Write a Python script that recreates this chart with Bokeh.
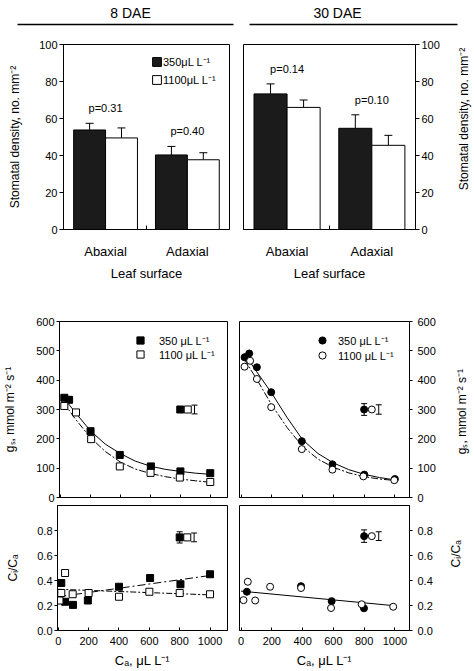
import math
from bokeh.plotting import figure
from bokeh.models import (Range1d, FixedTicker, ColumnDataSource, Whisker, TeeHead,
                          Legend, LegendItem, PrintfTickFormatter)
from bokeh.layouts import column, row
from bokeh.embed import file_html
from bokeh.resources import INLINE
from bokeh.core.properties import value

FONT = "Liberation Sans"
BAR_BLACK = "#1b1b1b"

# ---------------- data: stomatal density ----------------
headers = ["8 DAE", "30 DAE"]
surfaces = ["Abaxial", "Adaxial"]
bar_labels = ["350\u03bcL L\u207b\u00b9", "1100\u03bcL L\u207b\u00b9"]
dens8_350 = [53.8, 40.3]
dens8_350_se = [3.6, 4.6]
dens8_1100 = [49.5, 37.7]
dens8_1100_se = [5.4, 3.8]
pvals8 = ["p=0.31", "p=0.40"]
dens30_350 = [73.3, 54.7]
dens30_350_se = [5.4, 7.3]
dens30_1100 = [66.0, 45.5]
dens30_1100_se = [4.0, 5.4]
pvals30 = ["p=0.14", "p=0.10"]

# ---------------- data: gs vs Ca ----------------
co2_labels = ["350 \u03bcL L\u207b\u00b9", "1100 \u03bcL L\u207b\u00b9"]
gs8_350_ca = [27, 59, 202, 397, 604, 801, 1000]
gs8_350 = [340, 333, 226, 145, 106, 89, 83]
gs8_1100_ca = [27, 105, 206, 397, 602, 797, 1000]
gs8_1100 = [312, 290, 199, 106, 84, 68, 53]
fit_ca = [20, 100, 200, 300, 400, 500, 600, 700, 800, 900, 1000]
gs8_fit_350 = [342, 290, 228, 182, 150, 124, 107, 96, 89, 83, 79]
gs8_fit_1100 = [325, 268, 205, 157, 121, 97, 82, 71, 63, 57, 52]

gs30_350_ca = [23, 53, 103, 196, 395, 594, 801, 1000]
gs30_350 = [478, 491, 444, 359, 192, 113, 78, 63]
gs30_1100_ca = [23, 59, 103, 196, 395, 594, 795, 996]
gs30_1100 = [446, 466, 404, 308, 165, 95, 72, 59]
gs30_fit_350 = [492, 430, 355, 272, 197, 150, 118, 95, 79, 68, 60]
gs30_fit_1100 = [472, 405, 315, 238, 174, 131, 103, 84, 71, 63, 58]

# ---------------- data: Ci/Ca vs Ca ----------------
ci8_350_ca = [20, 45, 97, 195, 400, 605, 805, 1000]
ci8_350 = [0.38, 0.23, 0.205, 0.24, 0.35, 0.42, 0.37, 0.45]
ci8_1100_ca = [8, 20, 45, 95, 200, 400, 600, 800, 1000]
ci8_1100 = [0.24, 0.30, 0.46, 0.29, 0.30, 0.27, 0.31, 0.30, 0.29]
ci_fit_ca = [0, 1000]
ci8_fit_350 = [0.27, 0.44]
ci8_fit_1100 = [0.33, 0.285]

ci30_350_ca = [38, 390, 589, 799]
ci30_350 = [0.31, 0.355, 0.235, 0.178]
ci30_1100_ca = [16, 44, 92, 189, 390, 585, 784, 989]
ci30_1100 = [0.243, 0.39, 0.24, 0.35, 0.34, 0.18, 0.21, 0.19]
ci30_fit = [0.315, 0.198]

# representative SE bars: [350 marker+bar, 1100 marker, 1100 bar]
se_ca = [800, 850, 895]
gs8_se_y, gs8_se = 300, [10, 15]
gs30_se_y, gs30_se = 300, [20, 16]
ci8_se_y, ci8_se = 0.745, [0.045, 0.035]
ci30_se_y, ci30_se = 0.755, [0.05, 0.035]

gs_ticks = [0, 100, 200, 300, 400, 500, 600]
ci_ticks = [0, 0.2, 0.4, 0.6, 0.8]
ca_ticks = [0, 200, 400, 600, 800, 1000]
dens_ticks = [0, 20, 40, 60, 80, 100]

GS_TITLE = "g\u209b, mmol m\u207b\u00b2 s\u207b\u00b9"
CI_TITLE = "C\u1d62/C\u2090"
CA_TITLE = "C\u2090, \u03bcL L\u207b\u00b9"
DENS_TITLE = "Stomatal density, no. mm\u207b\u00b2"

OVERLAP = 8  # px the Ci/Ca row slides under the gs row's bottom border


def make_fig(w, h, bl, br, bt, bb, xr, yr, yloc="left"):
    p = figure(width=w, height=h, x_range=xr, y_range=yr, y_axis_location=yloc,
               output_backend="svg", toolbar_location=None,
               min_border_left=bl, min_border_right=br,
               min_border_top=bt, min_border_bottom=bb)
    p.grid.visible = False
    p.outline_line_color = "black"
    p.outline_line_width = 1
    p.outline_line_alpha = 1
    return p


def style_axis(ax, ticks, tick_in=0, tick_out=4, label_size="11px", standoff=3,
               title=None, title_size="12px", title_standoff=6):
    ax.ticker = FixedTicker(ticks=ticks)
    ax.major_tick_in = tick_in
    ax.major_tick_out = tick_out
    ax.minor_tick_in = 0
    ax.minor_tick_out = 0
    ax.major_label_text_font = FONT
    ax.major_label_text_font_size = label_size
    ax.major_label_text_color = "black"
    ax.major_label_standoff = standoff
    ax.axis_line_color = "black"
    ax.major_tick_line_color = "black"
    ax.minor_tick_line_color = "black"
    if title:
        ax.axis_label = title
        ax.axis_label_text_font = FONT
        ax.axis_label_text_font_size = title_size
        ax.axis_label_text_font_style = "normal"
        ax.axis_label_text_color = "black"
        ax.axis_label_standoff = title_standoff


def one_legend(p, label, rend, loc, gw, gh, standoff, size):
    p.add_layout(Legend(items=[LegendItem(label=label, renderers=[rend])],
                        location=loc, padding=0, margin=0, spacing=0,
                        glyph_width=gw, glyph_height=gh, label_height=20,
                        label_standoff=standoff, label_text_font=FONT,
                        label_text_font_size=size, label_text_color="black",
                        border_line_alpha=0, background_fill_alpha=0))


def title_strip(w, h, title, cx, cy_from_top, size="12px"):
    s = figure(width=w, height=h, x_range=Range1d(0, w), y_range=Range1d(0, h),
               output_backend="svg", toolbar_location=None, min_border=0)
    s.axis.visible = False
    s.grid.visible = False
    s.outline_line_color = None
    s.background_fill_alpha = 0
    s.border_fill_alpha = 0
    s.text(x=[cx], y=[h - cy_from_top], text=[title], angle=math.pi / 2,
           text_font=value(FONT), text_font_size=size, text_align="center",
           text_baseline="middle", text_color="black")
    return s


# ---------------- header ----------------
header = figure(width=474, height=32, x_range=Range1d(0, 474), y_range=Range1d(32, 0),
                output_backend="svg", toolbar_location=None, min_border=0)
header.axis.visible = False
header.grid.visible = False
header.outline_line_color = None
header.text(x=[130, 337], y=[12, 12], text=headers, text_font=value(FONT),
            text_font_size="14px", text_align="center", text_baseline="middle",
            text_color="black")
header.segment(x0=[17, 249], y0=[24, 24], x1=[233, 457], y1=[24, 24],
               line_color="black", line_width=1.3)


# ---------------- bar panels ----------------
def bar_panel(w, bl, br, yloc, d350, se350, d1100, se1100, pvals, legend=False):
    p = make_fig(w, 258, bl, br, 12, 61, Range1d(0.486, 2.515), Range1d(0, 100), yloc)
    xs = [i + 1 for i in range(len(surfaces))]
    bw = 0.39
    x350 = [x - bw / 2 for x in xs]
    x1100 = [x + bw / 2 for x in xs]
    s350 = ColumnDataSource(dict(x=x350, top=d350, up=[a + b for a, b in zip(d350, se350)]))
    s1100 = ColumnDataSource(dict(x=x1100, top=d1100, up=[a + b for a, b in zip(d1100, se1100)]))
    r1 = p.vbar(x="x", top="top", width=bw, source=s350, fill_color=BAR_BLACK, line_color="black")
    r2 = p.vbar(x="x", top="top", width=bw, source=s1100, fill_color="white", line_color="black")
    for s in (s350, s1100):
        p.add_layout(Whisker(base="x", lower="top", upper="up", source=s, dimension="height",
                             line_color="black", line_width=1, lower_head=None,
                             upper_head=TeeHead(size=8, line_color="black", line_width=1)))
    ptop = [max(a, b) + 5 for a, b in zip(s350.data["up"], s1100.data["up"])]
    p.text(x=xs, y=ptop, text=pvals, text_font=value(FONT), text_font_size="11px",
           text_align="center", text_baseline="bottom", text_color="black")
    ya = p.yaxis[0]
    style_axis(ya, dens_ticks, tick_out=4, standoff=2,
               title=DENS_TITLE if yloc == "left" else None,
               title_size="12px", title_standoff=14)
    xa = p.xaxis[0]
    style_axis(xa, [1, 2], tick_out=0, label_size="13px", standoff=14,
               title="Leaf surface", title_size="13px", title_standoff=4)
    xa.ticker = FixedTicker(ticks=xs, minor_ticks=[1.5])
    xa.minor_tick_in = 4
    xa.minor_tick_out = 0
    xa.major_label_overrides = {x: s for x, s in zip(xs, surfaces)}
    if legend:
        one_legend(p, bar_labels[0], r1, (88, 158), 11, 11, 1, "11px")
        one_legend(p, bar_labels[1], r2, (88, 140), 11, 11, 1, "11px")
    return p


p8 = bar_panel(236, 63, 7, "left", dens8_350, dens8_350_se, dens8_1100, dens8_1100_se,
               pvals8, legend=True)
p30 = bar_panel(216, 7, 37, "right", dens30_350, dens30_350_se, dens30_1100, dens30_1100_se,
                pvals30)
strip1 = title_strip(22, 258, DENS_TITLE, 11, 104)


# ---------------- gs and Ci/Ca panels ----------------
def se_marks(p, marker, y, se):
    src = ColumnDataSource(dict(x=[se_ca[0], se_ca[2]],
                                lo=[y - se[0], y - se[1]], hi=[y + se[0], y + se[1]]))
    p.add_layout(Whisker(base="x", lower="lo", upper="hi", source=src, dimension="height",
                         line_color="black", line_width=1,
                         lower_head=TeeHead(size=6, line_color="black", line_width=1),
                         upper_head=TeeHead(size=6, line_color="black", line_width=1)))
    p.scatter(x=[se_ca[0]], y=[y], marker=marker, size=7, fill_color="black", line_color="black")
    p.scatter(x=[se_ca[1]], y=[y], marker=marker, size=7, fill_color="white", line_color="black")


def gs_panel(w, bl, br, xr, yloc, marker, ca350, v350, ca1100, v1100, fit350, fit1100,
             se_y, se, leg_locs, leg_standoff):
    p = make_fig(w, 215, bl, br, 31, OVERLAP, xr, Range1d(0, 600), yloc)
    p.line(fit_ca, fit350, line_color="black", line_width=1)
    p.line(fit_ca, fit1100, line_color="black", line_width=1, line_dash="7 2 2 2")
    r1 = p.scatter(ca350, v350, marker=marker, size=7, fill_color="black", line_color="black")
    r2 = p.scatter(ca1100, v1100, marker=marker, size=7, fill_color="white", line_color="black")
    se_marks(p, marker, se_y, se)
    left = yloc == "left"
    style_axis(p.yaxis[0], gs_ticks, tick_out=3, standoff=2 if left else 5,
               title=GS_TITLE if left else None, title_size="12px", title_standoff=16)
    xa = p.xaxis[0]
    style_axis(xa, ca_ticks, standoff=0)
    xa.ticker = FixedTicker(ticks=[], minor_ticks=ca_ticks)
    xa.minor_tick_in = 3
    xa.minor_tick_out = 0
    one_legend(p, co2_labels[0], r1, leg_locs[0], 18, 18, leg_standoff, "11px")
    one_legend(p, co2_labels[1], r2, leg_locs[1], 18, 18, leg_standoff, "11px")
    return p


def ci_panel(w, bl, br, xr, yloc, marker, ca350, v350, ca1100, v1100, fits, se_y, se):
    p = make_fig(w, 173, bl, br, OVERLAP, 39, xr, Range1d(0, 1.0), yloc)
    p.background_fill_alpha = 0
    p.border_fill_alpha = 0
    for f, dash in fits:
        p.line(ci_fit_ca, f, line_color="black", line_width=1, line_dash=dash)
    p.scatter(ca350, v350, marker=marker, size=7, fill_color="black", line_color="black")
    p.scatter(ca1100, v1100, marker=marker, size=7, fill_color="white", line_color="black")
    se_marks(p, marker, se_y, se)
    left = yloc == "left"
    ya = p.yaxis[0]
    style_axis(ya, ci_ticks, tick_out=3, standoff=2 if left else 5,
               title=CI_TITLE if left else None, title_size="12px", title_standoff=14)
    ya.formatter = PrintfTickFormatter(format="%.1f")
    xa = p.xaxis[0]
    style_axis(xa, ca_ticks, tick_in=3, tick_out=0, label_size="11px", standoff=6,
               title=CA_TITLE, title_size="13px", title_standoff=5)
    return p


XR_L = Range1d(-5, 1115)
XR_R = Range1d(-10, 1095)

g8 = gs_panel(234, 57, 7, XR_L, "left", "square", gs8_350_ca, gs8_350, gs8_1100_ca, gs8_1100,
              gs8_fit_350, gs8_fit_1100, gs8_se_y, gs8_se, [(72, 147), (72, 133)], 10)
g30 = gs_panel(218, 5, 43, XR_R, "right", "circle", gs30_350_ca, gs30_350, gs30_1100_ca,
               gs30_1100, gs30_fit_350, gs30_fit_1100, gs30_se_y, gs30_se,
               [(74, 147), (74, 132)], 7)
strip2 = title_strip(22, 215, GS_TITLE, 9, 110)

c8 = ci_panel(234, 57, 7, XR_L, "left", "square", ci8_350_ca, ci8_350, ci8_1100_ca, ci8_1100,
              [(ci8_fit_350, "8 3 2 3"), (ci8_fit_1100, "6 2 2 2")], ci8_se_y, ci8_se)
c30 = ci_panel(212, 5, 37, XR_R, "right", "circle", ci30_350_ca, ci30_350, ci30_1100_ca,
               ci30_1100, [(ci30_fit, "solid")], ci30_se_y, ci30_se)
strip3 = title_strip(28, 173, CI_TITLE, 9, 67)

row_ci = row(c8, c30, strip3, margin=(-OVERLAP, 0, 0, 0))
layout = column(header, row(p8, p30, strip1), row(g8, g30, strip2), row_ci)

open("out.html", "w").write(file_html(layout, INLINE))
